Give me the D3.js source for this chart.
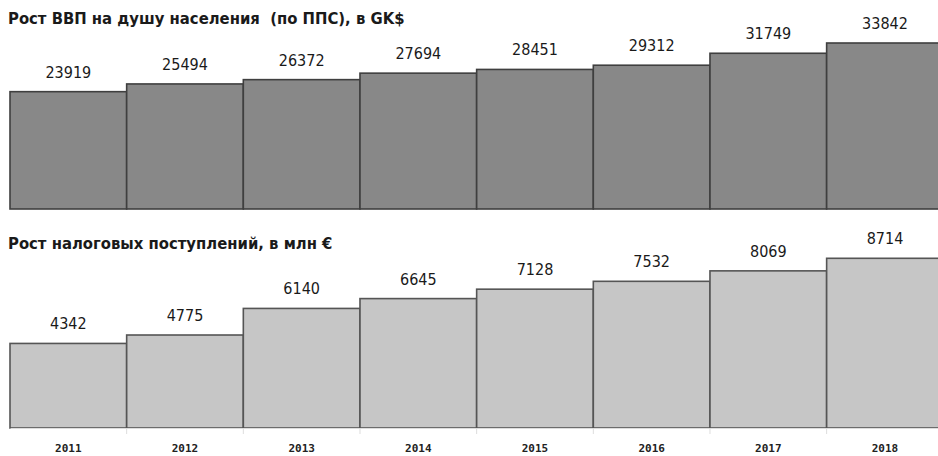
<!DOCTYPE html>
<html><head><meta charset="utf-8">
<script src="https://cdn.jsdelivr.net/npm/d3@7/dist/d3.min.js"></script>
<style>body{margin:0;background:#fff}svg{display:block}</style>
</head><body>
<svg id="c" width="938" height="456"></svg>
<script>
const years = ["2011","2012","2013","2014","2015","2016","2017","2018"];
const gdpValues = [23919,25494,26372,27694,28451,29312,31749,33842];
const taxValues = [4342,4775,6140,6645,7128,7532,8069,8714];
const gdpTitle = "Рост ВВП на душу населения  (по ППС), в GK$";
const taxTitle = "Рост налоговых поступлений, в млн €";

const svg = d3.select("#c");
const x = d3.scaleBand().domain(years).range([10, 943.3]).padding(0);

const yTop = d3.scaleLinear().domain([0, 40000]).range([209, 209 - 40000*166/33842]);
const yBot = d3.scaleLinear().domain([0, 10000]).range([428, 428 - 10000*169.7/8714]);

function panel(vals, y, fill, stroke, title, titleY){
  const g = svg.append("g");
  g.selectAll("rect").data(vals).join("rect")
    .attr("x", (d,i)=>x(years[i]))
    .attr("y", d=>y(d))
    .attr("width", x.bandwidth())
    .attr("height", d=>y(0)-y(d))
    .attr("fill", fill).attr("stroke", stroke).attr("stroke-width", 1.6);
  g.selectAll("text.v").data(vals).join("text").attr("class","v")
    .attr("x", (d,i)=>x(years[i])+x.bandwidth()/2)
    .attr("y", d=>y(d)-14)
    .attr("text-anchor","middle")
    .attr("font-family","DejaVu Sans Condensed, DejaVu Sans")
    .attr("font-size", 16).attr("fill","#1a1a1a")
    .text(d=>d);
  svg.append("text").attr("x", 8).attr("y", titleY)
    .attr("font-family","DejaVu Sans Condensed, DejaVu Sans")
    .attr("font-size", 16.5).attr("font-weight", 600).attr("fill","#1a1a1a")
    .attr("xml:space","preserve").style("white-space","pre")
    .text(title);
}
panel(gdpValues, yTop, "#888888", "#3f3f3f", gdpTitle, 24);
panel(taxValues, yBot, "#c6c6c6", "#555555", taxTitle, 249);

const xAxis = d3.axisBottom(x).tickSize(0).tickPadding(16);
const ax = svg.append("g").attr("transform","translate(0,428)").call(xAxis);
ax.select(".domain").attr("stroke","#ddd");
ax.selectAll("text").attr("font-family","DejaVu Sans Mono").attr("font-weight","bold")
  .attr("font-size", 11).attr("fill","#222");
// faint boundary ticks below baseline
ax.selectAll("line.b").data(years.slice(1)).join("line").attr("class","b")
  .attr("x1", d=>x(d)).attr("x2", d=>x(d)).attr("y1", 1).attr("y2", 6)
  .attr("stroke","#ddd");
</script>
</body></html>
